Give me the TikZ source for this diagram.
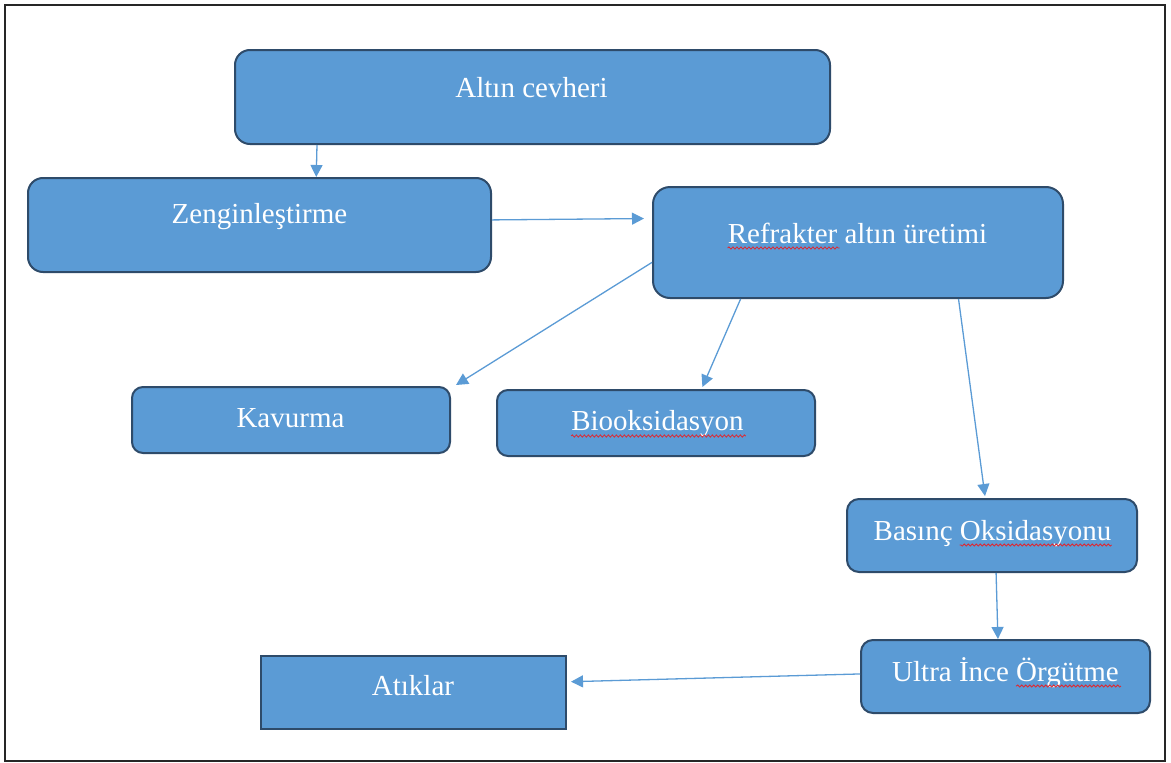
\documentclass[tikz,border=0pt]{standalone}
\usepackage{fontspec}
\setmainfont{Liberation Serif}
\usetikzlibrary{arrows.meta,calc,decorations.pathmorphing}
\definecolor{boxfill}{HTML}{5B9BD5}
\definecolor{boxline}{HTML}{2E4B6A}
\definecolor{linkblue}{HTML}{5B9BD5}
\definecolor{spellred}{HTML}{E0262E}
\tikzset{
  stepbox/.style={draw=boxline, line width=2, fill=boxfill, inner sep=0},
  label/.style={text=white, inner sep=0, anchor=base,
    font=\fontsize{29}{34}\selectfont},
  link/.style={draw=linkblue, line width=1.3,
    -{Triangle[length=12, width=12]}},
  squiggle/.style={draw=spellred, line width=0.8, decorate,
    decoration={snake, amplitude=1.1, segment length=4}},
}
\begin{document}
\begin{tikzpicture}[x=1pt, y=-1pt]
\useasboundingbox (0,0) rectangle (1171,763);
\draw[line width=2, black!85] (5,5) rectangle (1165,761);

% boxes
\node[stepbox, rounded corners=15, minimum width=595, minimum height=94] (ore)  at (532.5,97) {};
\node[stepbox, rounded corners=15, minimum width=463, minimum height=94] (zen)  at (259.5,225) {};
\node[stepbox, rounded corners=17, minimum width=410, minimum height=111] (refr) at (858,242.5) {};
\node[stepbox, rounded corners=11, minimum width=318, minimum height=66] (kav)  at (291,420) {};
\node[stepbox, rounded corners=11, minimum width=318, minimum height=66] (bio)  at (656,423) {};
\node[stepbox, rounded corners=12, minimum width=290, minimum height=73] (bas)  at (992,535.5) {};
\node[stepbox, rounded corners=12, minimum width=289, minimum height=73] (ult)  at (1005.5,676.5) {};
\node[stepbox, minimum width=305, minimum height=73] (atk)  at (413.5,692.5) {};

% labels
\node[label] (t1) at (531.5,97)  {Altın cevheri};
\node[label] (t2) at (259.5,223) {Zenginleştirme};
\node[label] (t3) at (857.5,243) {Refrakter altın üretimi};
\node[label] (t4) at (290.5,427) {Kavurma};
\node[label] (t5) at (657.5,430) {Biooksidasyon};
\node[label] (t6) at (992.5,540) {Basınç Oksidasyonu};
\node[label] (t7) at (1005.5,681) {Ultra İnce Örgütme};
\node[label] (t8) at (413,695)   {Atıklar};

% spell-check underlines
\draw[squiggle] ([yshift=-5pt]t3.base west) -- ++(112,0);
\draw[squiggle] ([yshift=-6pt]t5.base west) -- ([yshift=-6pt, xshift=2pt]t5.base east);
\draw[squiggle] ([yshift=-5pt]t6.base east) -- ++(-152,0);
\draw[squiggle] ([yshift=-5pt, xshift=2pt]t7.base east) -- ++(-105,0);

% connector end points on the box borders
\coordinate (a1) at ($(ore.south west)!0.139!(ore.south east)$);
\coordinate (b1) at ($(zen.north west)!0.622!(zen.north east)$);
\coordinate (a2) at ($(zen.north east)!0.447!(zen.south east)$);
\coordinate (b2) at ($(refr.north west)!0.288!(refr.south west)+(-8,0)$);
\coordinate (a3) at ($(refr.north west)!0.676!(refr.south west)$);
\coordinate (b3) at ($(kav.north east)+(5,-1)$);
\coordinate (a4) at ($(refr.south west)!0.215!(refr.south east)$);
\coordinate (b4) at ($(bio.north west)!0.645!(bio.north east)+(0,-2)$);
\coordinate (a5) at ($(refr.south west)!0.744!(refr.south east)$);
\coordinate (b5) at ($(bas.north west)!0.476!(bas.north east)+(0,-2)$);
\coordinate (a6) at ($(bas.south west)!0.514!(bas.south east)$);
\coordinate (b6) at ($(ult.north west)!0.474!(ult.north east)$);
\coordinate (a7) at ($(ult.north west)!0.466!(ult.south west)$);
\coordinate (b7) at ($(atk.north east)!0.356!(atk.south east)+(4,0)$);

% connectors
\draw[link] (a1) -- (b1);
\draw[link] (a2) -- (b2);
\draw[link] (a3) -- (b3);
\draw[link] (a4) -- (b4);
\draw[link] (a5) -- (b5);
\draw[link] (a6) -- (b6);
\draw[link] (a7) -- (b7);
\end{tikzpicture}
\end{document}
